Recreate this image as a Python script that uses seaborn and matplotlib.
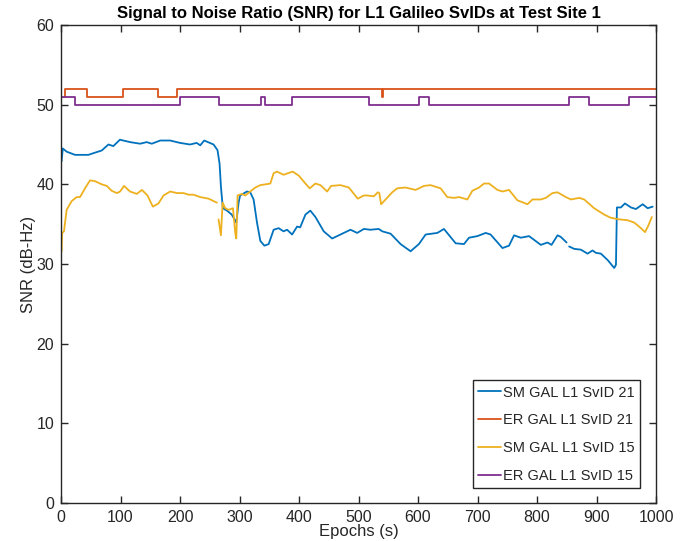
import numpy as np
import pandas as pd
import matplotlib
matplotlib.use("Agg")
import matplotlib.pyplot as plt
from matplotlib.lines import Line2D
import seaborn as sns

# ---- SNR traces (epoch in s, SNR in dB-Hz) ----
# SM GAL L1 SvID 21 (two segments with a short outage near 850 s)
sm21_epoch_a = [1, 3, 9.5, 23.6, 46, 54, 68.5, 79.7, 88, 99, 116, 133, 144, 152.6, 166.7,
                183.5, 200, 217, 228, 234, 240.7, 256.4, 263, 266.5, 268.8, 272, 279, 287,
                294.6, 298.5, 301, 312.6, 318, 323.7, 329.4, 335, 341.8, 349, 357.4, 365.8,
                374, 380, 388.4, 396.8, 402, 410.8, 419, 427.6, 441.6, 455.7, 469.7, 486.5,
                497.8, 509, 520, 534, 540, 554, 570.7, 587.5, 601.5, 612.8, 632.5, 643.6,
                663.3, 677.3, 685.7, 699.8, 713.8, 722, 742, 753, 761.5, 772.7, 786.7, 806.4,
                817.7, 824.4, 834.5, 840, 849.7]
sm21_snr_a = [42.9, 44.5, 44.1, 43.7, 43.7, 43.9, 44.25, 45.0, 44.8, 45.6, 45.3, 45.1, 45.3,
              45.1, 45.5, 45.5, 45.2, 45.0, 45.2, 44.9, 45.5, 45.0, 44.3, 42.6, 39.7, 37.0,
              36.7, 36.2, 35.2, 37.7, 38.6, 39.1, 39.0, 38.1, 35.2, 32.9, 32.3, 32.5, 34.3,
              34.5, 34.1, 34.3, 33.7, 34.7, 34.6, 36.2, 36.7, 35.9, 34.1, 33.2, 33.7, 34.3,
              33.9, 34.4, 34.3, 34.4, 34.1, 33.8, 32.5, 31.6, 32.5, 33.7, 33.9, 34.4, 32.6,
              32.5, 33.3, 33.5, 33.9, 33.7, 32.0, 32.3, 33.6, 33.3, 33.5, 32.4, 32.7, 32.4,
              33.6, 33.4, 32.7]
sm21_epoch_b = [854, 862.5, 873.7, 885, 893.4, 899, 907.4, 918.7, 929.8, 932.7, 934.3, 941,
                947.8, 957.9, 966.3, 977.6, 986, 994.4]
sm21_snr_b = [32.2, 31.9, 31.8, 31.3, 31.7, 31.4, 31.3, 30.5, 29.5, 29.9, 37.1, 37.1, 37.6,
              37.1, 36.9, 37.5, 37.0, 37.2]

# SM GAL L1 SvID 15 (short outage near 263 s)
sm15_epoch_a = [1, 2, 5, 9.5, 18, 26.4, 32, 40.4, 48.8, 57, 68.5, 77, 85, 93.8, 99.3, 106,
                116, 127.4, 136, 145.3, 154.4, 163.8, 172.3, 183.5, 194.8, 206, 214.3, 222.7,
                234, 248, 262]
sm15_snr_a = [31.6, 33.9, 34.1, 36.8, 37.9, 38.4, 38.4, 39.5, 40.5, 40.4, 40.0, 39.8, 39.2,
              38.9, 39.1, 39.8, 39.1, 38.8, 39.3, 38.6, 37.2, 37.6, 38.6, 39.1, 38.9, 38.9,
              38.7, 38.7, 38.4, 38.2, 37.7]
sm15_epoch_b = [264.8, 268.8, 271.6, 276, 281.7, 289, 293, 294.6, 296.8, 304, 309.8, 318,
                326.6, 335, 351.8, 357.4, 363, 374, 389.4, 399.5, 410.8, 418, 427.6, 436,
                447.3, 454, 469.7, 483.7, 498.8, 509, 514.6, 525.8, 532.5, 535, 538, 545.5,
                556.7, 565, 579, 596, 610, 621, 638, 649.3, 660.5, 669, 683, 691.4, 702.6,
                711, 719.4, 733.5, 742, 753, 767, 784, 792.4, 806.4, 814.8, 826, 834.5, 848.5,
                857, 871, 879.3, 896, 913, 924, 938, 952, 963.4, 974.7, 981.5, 987, 993]
sm15_snr_b = [35.6, 33.6, 37.7, 37.0, 36.8, 37.0, 33.8, 33.2, 38.6, 38.8, 38.6, 39.1, 39.6,
              39.9, 40.1, 41.4, 41.6, 41.2, 41.6, 41.1, 40.1, 39.5, 40.1, 39.9, 39.1, 39.8,
              39.9, 39.6, 38.2, 38.6, 38.6, 38.5, 39.0, 38.9, 37.5, 38.1, 39.0, 39.5, 39.6,
              39.3, 39.8, 39.9, 39.5, 38.4, 38.3, 38.4, 38.1, 39.2, 39.6, 40.1, 40.1, 39.3,
              39.1, 39.3, 38.0, 37.5, 38.1, 38.1, 38.3, 38.9, 39.0, 38.4, 38.1, 38.3, 38.1,
              37.0, 36.2, 35.8, 35.6, 35.5, 35.2, 34.5, 34.0, 34.8, 35.9]

# ER traces are integer-valued; listed as change points (value holds until next epoch)
er21_epoch = [6, 7, 43, 105, 163, 195, 539, 542, 1000]
er21_snr = [51, 52, 51, 52, 51, 52, 51, 52, 52]
er15_epoch = [1, 23, 200, 265, 336, 343, 389, 517, 602, 618, 854, 888, 955, 1000]
er15_snr = [51, 50, 51, 50, 51, 50, 51, 50, 51, 50, 51, 50, 51, 51]

series_names = ["SM GAL L1 SvID 21", "ER GAL L1 SvID 21",
                "SM GAL L1 SvID 15", "ER GAL L1 SvID 15"]
series_colors = ["#0072BD", "#D95319", "#EDB120", "#7E2F8E"]


def frame(name, parts):
    rows = []
    for seg, (ep, val) in enumerate(parts):
        rows.append(pd.DataFrame({"Epoch": ep, "SNR": val, "series": name, "segment": seg}))
    return pd.concat(rows, ignore_index=True)


smooth_df = pd.concat([
    frame(series_names[0], [(sm21_epoch_a, sm21_snr_a), (sm21_epoch_b, sm21_snr_b)]),
    frame(series_names[2], [(sm15_epoch_a, sm15_snr_a), (sm15_epoch_b, sm15_snr_b)]),
], ignore_index=True)
step_df = pd.concat([
    frame(series_names[1], [(er21_epoch, er21_snr)]),
    frame(series_names[3], [(er15_epoch, er15_snr)]),
], ignore_index=True)

sns.set_theme(style="white")
plt.rcParams["font.family"] = ["Liberation Sans", "DejaVu Sans"]

palette = dict(zip(series_names, series_colors))
fig = plt.figure(figsize=(6.89, 5.41), dpi=100)
ax = fig.add_axes([61 / 689, 1 - 503 / 541, (656 - 61) / 689, (503 - 25) / 541])

sns.lineplot(data=step_df, x="Epoch", y="SNR", hue="series", palette=palette,
             units="segment", estimator=None, sort=False, legend=False,
             drawstyle="steps-post", linewidth=1.3, ax=ax)
sns.lineplot(data=smooth_df, x="Epoch", y="SNR", hue="series", palette=palette,
             units="segment", estimator=None, sort=False, legend=False,
             linewidth=1.3, ax=ax)

ax.set_xlim(0, 1000)
ax.set_ylim(0, 60)
ax.set_xticks(np.arange(0, 1001, 100))
ax.set_yticks(np.arange(0, 61, 10))

axis_grey = "#262626"
for sp in ax.spines.values():
    sp.set_visible(True)
    sp.set_color(axis_grey)
    sp.set_linewidth(1.0)
ax.tick_params(axis="both", direction="in", length=5, width=1.0, color=axis_grey,
               labelsize=11.5, labelcolor=axis_grey, top=True, right=True,
               bottom=True, left=True, pad=5)

ax.set_xlabel("Epochs (s)", fontsize=12, color=axis_grey, labelpad=-1)
ax.set_ylabel("SNR (dB-Hz)", fontsize=12, color=axis_grey, labelpad=0)
ax.set_title("Signal to Noise Ratio (SNR) for L1 Galileo SvIDs at Test Site 1",
             fontsize=12, fontweight="bold", color="black", pad=5)

handles = [Line2D([], [], color=c, linewidth=1.3) for c in series_colors]
leg = ax.legend(handles, series_names, loc="lower right", bbox_to_anchor=(0.973, 0.031),
                fontsize=10.5, frameon=True, fancybox=False, framealpha=1,
                edgecolor=axis_grey, handlelength=1.6, handletextpad=0.15,
                borderpad=0.35, labelspacing=0.95, borderaxespad=0)
leg.get_frame().set_linewidth(1.0)

fig.savefig("out.png", dpi=100, facecolor="white")
